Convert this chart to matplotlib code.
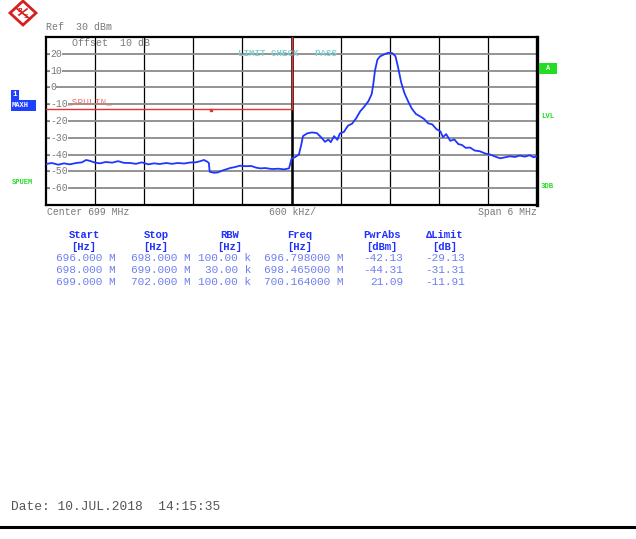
import numpy as np
import matplotlib.pyplot as plt
from matplotlib.lines import Line2D
from matplotlib.patches import Polygon, Rectangle

# spectrum trace (MHz, dBm)
freq_mhz = [696.00, 696.07, 696.15, 696.22, 696.29, 696.37, 696.44, 696.49, 696.54, 696.60,
            696.66, 696.73, 696.81, 696.88, 696.95, 697.03, 697.10, 697.17, 697.25, 697.32,
            697.39, 697.47, 697.54, 697.61, 697.69, 697.76, 697.83, 697.88, 697.93, 697.97,
            697.99, 698.00, 698.05, 698.10, 698.15, 698.20, 698.25, 698.31, 698.37, 698.44,
            698.51, 698.57, 698.62, 698.68, 698.76, 698.84, 698.91, 698.97, 699.00, 699.04,
            699.09, 699.12, 699.14, 699.19, 699.25, 699.31, 699.36, 699.41, 699.45, 699.48,
            699.52, 699.56, 699.59, 699.64, 699.69, 699.74, 699.79, 699.84, 699.89, 699.94,
            699.98, 700.00, 700.02, 700.05, 700.08, 700.13, 700.18, 700.23, 700.27, 700.30,
            700.34, 700.38, 700.43, 700.47, 700.52, 700.57, 700.62, 700.67, 700.72, 700.77,
            700.82, 700.85, 700.89, 700.94, 700.99, 701.04, 701.08, 701.13, 701.18, 701.24,
            701.30, 701.37, 701.43, 701.49, 701.55, 701.61, 701.67, 701.73, 701.79, 701.85,
            701.91, 701.96, 702.00]
level_dbm = [-45.6, -45.0, -46.0, -45.2, -45.8, -45.0, -44.6, -43.2, -43.8, -44.8,
             -45.2, -44.4, -44.8, -43.9, -44.9, -45.0, -45.5, -44.6, -45.8, -45.2,
             -45.6, -45.0, -45.5, -45.0, -45.3, -44.7, -44.6, -44.0, -43.2, -44.2,
             -45.0, -50.2, -50.8, -50.6, -49.6, -48.8, -48.0, -47.4, -46.6, -46.9,
             -46.8, -47.8, -48.2, -48.0, -48.6, -48.4, -48.8, -48.2, -42.5, -41.6,
             -40.0, -34.0, -29.0, -27.4, -26.8, -27.2, -29.6, -32.4, -31.0, -32.6,
             -29.0, -31.2, -27.5, -26.5, -22.8, -21.6, -18.4, -14.2, -11.4, -8.2,
             -4.0, 2.0, 10.0, 16.5, 18.4, 19.6, 20.6, 20.4, 18.6, 12.5,
             3.0, -3.4, -8.8, -12.6, -15.8, -17.2, -18.8, -21.4, -22.0, -24.8,
             -26.2, -29.6, -27.8, -31.8, -31.0, -33.8, -34.2, -36.0, -35.8, -37.6,
             -38.0, -39.4, -40.0, -41.2, -42.2, -41.6, -41.0, -41.4, -40.6, -41.2,
             -40.4, -41.6, -41.0]

# limit line (SPULIN)
limit_freq = [696.0, 699.0, 699.0]
limit_level = [-13.0, -13.0, 30.0]

y_ticks = [20, 10, 0, -10, -20, -30, -40, -50, -60]

# result table
col_headers = ["Start", "Stop", "RBW", "Freq", "PwrAbs", "\u0394Limit"]
col_units = ["[Hz]", "[Hz]", "[Hz]", "[Hz]", "[dBm]", "[dB]"]
table_rows = [
    ["696.000 M", "698.000 M", "100.00 k", "696.798000 M", "-42.13", "-29.13"],
    ["698.000 M", "699.000 M", "30.00 k", "698.465000 M", "-44.31", "-31.31"],
    ["699.000 M", "702.000 M", "100.00 k", "700.164000 M", "21.09", "-11.91"],
]

W, H = 636, 539
MONO = "Liberation Mono"
GRAY = "#7a7a7a"
GREEN = "#22dd22"
BLUE_HDR = "#2030ff"
BLUE_ROW = "#7080f0"


def fx(px):
    return px / W


def fy(py):
    return 1 - py / H


fig = plt.figure(figsize=(W / 100, H / 100), dpi=100)
fig.patch.set_facecolor("white")

# screen area
ax = fig.add_axes([fx(46), fy(205), (537 - 46) / W, (205 - 37) / H])
ax.set_xlim(696, 702)
ax.set_ylim(-70, 30)
ax.set_xticks([])
ax.set_yticks([])
for s in ax.spines.values():
    s.set_linewidth(1.6)
    s.set_color("black")
ax.spines["right"].set_linewidth(2.4)

for v in np.arange(696.6, 702, 0.6):
    ax.axvline(v, color="black", lw=0.9, zorder=1)
for v in y_ticks:
    ax.axhline(v, color="#8a8a8a", lw=1.3, zorder=1)
    ax.plot([696.0, 696.05], [v, v], color=GRAY, lw=0.8, zorder=2)
    ax.text(696.05, v, str(v), fontsize=7, family=MONO, color=GRAY,
            va="center", ha="left", zorder=3,
            bbox=dict(facecolor="white", edgecolor="none", pad=0.2))
ax.axvline(699.0, color="black", lw=1.8, zorder=1)

ax.plot(limit_freq, limit_level, color="#e83030", lw=1.0, zorder=4)
ax.plot([698.02], [-13.3], marker="s", ms=1.5, color="#e83030", zorder=4)
ax.plot(freq_mhz, level_dbm, color="#1f36ff", lw=1.3, zorder=5)

ax.text(696.32, 26.3, "Offset  10 dB", fontsize=7.2, family=MONO, color=GRAY,
        va="center", ha="left")
ax.text(698.35, 20, "LIMIT CHECK   PASS", fontsize=6.6, family=MONO,
        color="#7fd0d0", va="center", ha="left", fontweight="bold", zorder=6)
ax.text(696.25, -8.6, "_SPULIN_", fontsize=6.8, family=MONO,
        color="#f07070", va="center", ha="left", zorder=6)

# header text
fig.text(fx(46), fy(27), "Ref  30 dBm", fontsize=7.2, family=MONO, color=GRAY,
         va="center", ha="left")

# R&S logo
logo = Polygon([[fx(23), fy(1)], [fx(36), fy(13)], [fx(23), fy(25)], [fx(10), fy(13)]],
               closed=True, transform=fig.transFigure, facecolor="white",
               edgecolor="#d42020", lw=2.0)
fig.add_artist(logo)
fig.add_artist(Line2D([fx(16), fx(30)], [fy(8), fy(19)], transform=fig.transFigure,
                      color="#d42020", lw=1.2))
fig.add_artist(Line2D([fx(19), fx(27)], [fy(15), fy(9)], transform=fig.transFigure,
                      color="#d42020", lw=1.2))
fig.text(fx(20), fy(11), "R", fontsize=4.5, color="#d42020", ha="center",
         va="center", fontweight="bold")
fig.text(fx(26), fy(16), "S", fontsize=4.5, color="#d42020", ha="center",
         va="center", fontweight="bold")

# left side labels
fig.add_artist(Rectangle((fx(11), fy(100)), 8 / W, 10 / H, transform=fig.transFigure,
                         facecolor="#2040ff", edgecolor="none"))
fig.text(fx(12.5), fy(95), "1", fontsize=5.5, family=MONO, color="white",
         va="center", ha="left", fontweight="bold")
fig.add_artist(Rectangle((fx(11), fy(111)), 25 / W, 11 / H, transform=fig.transFigure,
                         facecolor="#2040ff", edgecolor="none"))
fig.text(fx(12), fy(105.5), "MAXH", fontsize=5.0, family=MONO, color="white",
         va="center", ha="left", fontweight="bold")
fig.text(fx(12), fy(183), "SPUEM", fontsize=5.0, family=MONO, color=GREEN,
         va="center", ha="left", fontweight="bold")

# right side labels
fig.add_artist(Rectangle((fx(539), fy(74)), 18 / W, 11 / H, transform=fig.transFigure,
                         facecolor=GREEN, edgecolor="none"))
fig.text(fx(548), fy(68.5), "A", fontsize=5.0, family=MONO, color="white",
         va="center", ha="center", fontweight="bold")
fig.text(fx(541), fy(116), "LVL", fontsize=5.2, family=MONO, color=GREEN,
         va="center", ha="left", fontweight="bold")
fig.text(fx(541), fy(186), "3DB", fontsize=5.2, family=MONO, color=GREEN,
         va="center", ha="left", fontweight="bold")

# footer of screen
fig.text(fx(47), fy(212), "Center 699 MHz", fontsize=7.1, family=MONO, color=GRAY,
         va="center", ha="left")
fig.text(fx(269), fy(212), "600 kHz/", fontsize=7.1, family=MONO, color=GRAY,
         va="center", ha="left")
fig.text(fx(537), fy(212), "Span 6 MHz", fontsize=7.1, family=MONO, color=GRAY,
         va="center", ha="right")

# table
hdr_centers = [84, 156, 230, 300, 382, 445]
row_rights = [116, 191, 251, 343, 403, 465]
for i, h in enumerate(col_headers):
    fig.text(fx(hdr_centers[i]), fy(235), h, fontsize=7.6, family=MONO,
             color=BLUE_HDR, va="center", ha="center", fontweight="bold")
    fig.text(fx(hdr_centers[i]), fy(247), col_units[i], fontsize=7.6, family=MONO,
             color=BLUE_HDR, va="center", ha="center", fontweight="bold")
for r, row in enumerate(table_rows):
    for i, cell in enumerate(row):
        fig.text(fx(row_rights[i]), fy(258 + 12 * r), cell, fontsize=8.0,
                 family=MONO, color=BLUE_ROW, va="center", ha="right")

fig.text(fx(11), fy(507), "Date: 10.JUL.2018  14:15:35", fontsize=9.3, family=MONO,
         color="#555555", va="center", ha="left")

fig.add_artist(Line2D([0, 1], [fy(527), fy(527)], transform=fig.transFigure,
                      color="black", lw=2.2))

plt.savefig("out.png", dpi=100)
